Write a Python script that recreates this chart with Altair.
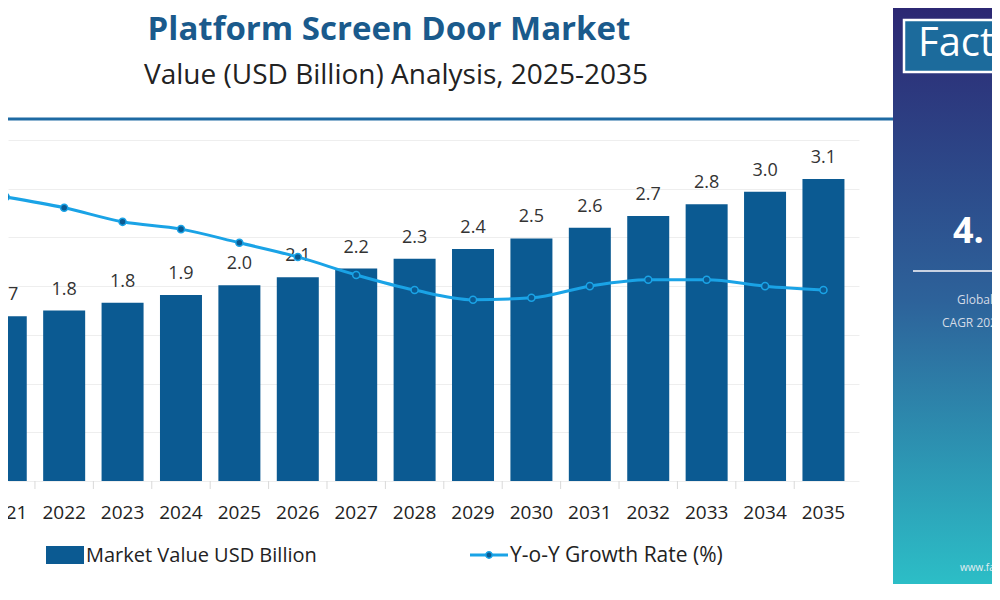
import altair as alt
import pandas as pd

# ---------------- data ----------------
years = [2021, 2022, 2023, 2024, 2025, 2026, 2027, 2028, 2029, 2030, 2031, 2032, 2033, 2034, 2035]
market_value = [1.69, 1.75, 1.83, 1.91, 2.01, 2.09, 2.18, 2.28, 2.38, 2.49, 2.60, 2.72, 2.84, 2.97, 3.10]
value_labels = ["1.7", "1.8", "1.8", "1.9", "2.0", "2.1", "2.2", "2.3", "2.4", "2.5", "2.6", "2.7", "2.8", "3.0", "3.1"]
growth_rate = [5.83, 5.61, 5.32, 5.17, 4.89, 4.60, 4.23, 3.92, 3.72, 3.76, 4.00, 4.13, 4.13, 4.00, 3.92]

title_text = "Platform Screen Door Market"
subtitle_text = "Value (USD Billion) Analysis, 2025-2035"
legend_labels = ["Market Value USD Billion", "Y-o-Y Growth Rate (%)"]
panel_texts = ["Fact.MR", "4.", "Global", "CAGR 2025-2035", "www.factmr.com"]

# ---------------- styling ----------------
FONT = "Open Sans"
BAR = "#0b5a92"
LINE = "#1aa3e6"
W, H = 851, 341

df = pd.DataFrame({
    "year": years,
    "value": market_value,
    "label": value_labels,
    "growth": growth_rate,
    "year_label": [str(y) for y in years],
})
bounds = pd.DataFrame({"b": [y + 0.5 for y in years[:-1]]})
one = pd.DataFrame({"k": [0]})

xscale = alt.Scale(domain=[2021.124, 2035.523], nice=False, zero=False)
x_axis = alt.X("year:Q", scale=xscale,
               axis=alt.Axis(labels=False, ticks=False, grid=False, domainColor="#d9d9d9", title=None))
x_noaxis = alt.X("year:Q", scale=xscale, axis=None)
vscale = alt.Scale(domain=[0, 3.5], nice=False, zero=True)
gscale = alt.Scale(domain=[0, 7], nice=False, zero=True)

base = alt.Chart(df)

bars = base.mark_bar(size=42, color=BAR).encode(
    x=x_axis,
    y=alt.Y("value:Q", scale=vscale,
            axis=alt.Axis(values=[0, 0.5, 1, 1.5, 2, 2.5, 3, 3.5], labels=False, ticks=False,
                          domain=False, grid=True, gridColor="#eeeeee", title=None)),
)

bar_labels = base.mark_text(dy=-21, fontSize=18, font=FONT, color="#333333", baseline="middle").encode(
    x=x_noaxis,
    y=alt.Y("value:Q", scale=vscale, axis=None),
    text="label:N",
)

line = base.mark_line(interpolate="monotone", color=LINE, strokeWidth=3).encode(
    x=x_noaxis,
    y=alt.Y("growth:Q", scale=gscale, axis=None),
)
points = base.mark_circle(size=50, color=BAR, stroke=LINE, strokeWidth=1.5, opacity=1).encode(
    x=x_noaxis,
    y=alt.Y("growth:Q", scale=gscale, axis=None),
)

tick_rules = alt.Chart(bounds).mark_rule(color="#d9d9d9").encode(
    x=alt.X("b:Q", scale=xscale, axis=None),
    y=alt.value(H), y2=alt.value(H + 8),
)

year_text = base.mark_text(fontSize=19, font=FONT, color="#222222", baseline="middle").encode(
    x=x_noaxis, y=alt.value(H + 32), text="year_label:N",
)

deco = alt.Chart(one)

title = deco.mark_text(fontSize=33, font=FONT, fontWeight="bold", color="#1a5a8c",
                       align="center", baseline="middle").encode(
    x=alt.value(381), y=alt.value(-110), text=alt.value(title_text))
subtitle = deco.mark_text(fontSize=28, font=FONT, color="#222222",
                          align="center", baseline="middle").encode(
    x=alt.value(388), y=alt.value(-64), text=alt.value(subtitle_text))
header_line = deco.mark_rule(color="#1e6aa3", strokeWidth=3).encode(
    x=alt.value(-10), x2=alt.value(885), y=alt.value(-21))

# legend
leg_rect = deco.mark_rect(color=BAR).encode(
    x=alt.value(38), x2=alt.value(76), y=alt.value(406), y2=alt.value(424))
leg_text1 = deco.mark_text(fontSize=20, font=FONT, color="#222222", align="left", baseline="middle").encode(
    x=alt.value(78), y=alt.value(416), text=alt.value(legend_labels[0]))
leg_line = deco.mark_rule(color=LINE, strokeWidth=3).encode(
    x=alt.value(462), x2=alt.value(500), y=alt.value(415))
leg_dot = deco.mark_circle(size=40, color=BAR, stroke=LINE, strokeWidth=1.5, opacity=1).encode(
    x=alt.value(481), y=alt.value(415))
leg_text2 = deco.mark_text(fontSize=21, font=FONT, color="#222222", align="left", baseline="middle").encode(
    x=alt.value(502), y=alt.value(416), text=alt.value(legend_labels[1]))

# right panel
panel = deco.mark_rect(color=alt.LinearGradient(
    gradient="linear",
    stops=[alt.GradientStop(color="#2c2672", offset=0),
           alt.GradientStop(color="#2d629a", offset=0.5),
           alt.GradientStop(color="#2cc3c9", offset=1)],
    x1=0, x2=0, y1=0, y2=1)).encode(
    x=alt.value(885), x2=alt.value(995), y=alt.value(-140), y2=alt.value(460))
logo_box = deco.mark_rect(color="#1c6b9c", stroke="white", strokeWidth=2.5).encode(
    x=alt.value(896), x2=alt.value(1010), y=alt.value(-120), y2=alt.value(-68))
logo_text = deco.mark_text(fontSize=40, font=FONT, color="white", align="left", baseline="alphabetic").encode(
    x=alt.value(910), y=alt.value(-84), text=alt.value(panel_texts[0]))
big_num = deco.mark_text(fontSize=36, font=FONT, fontWeight="bold", color="white",
                         align="left", baseline="alphabetic").encode(
    x=alt.value(945), y=alt.value(103), text=alt.value(panel_texts[1]))
panel_rule = deco.mark_rule(color="#c9d2e2", strokeWidth=2).encode(
    x=alt.value(905), x2=alt.value(1000), y=alt.value(131))
p_t1 = deco.mark_text(fontSize=12, font=FONT, color="#d4dbe6", align="left", baseline="middle").encode(
    x=alt.value(949), y=alt.value(160), text=alt.value(panel_texts[2]))
p_t2 = deco.mark_text(fontSize=12, font=FONT, color="#d4dbe6", align="left", baseline="middle").encode(
    x=alt.value(934), y=alt.value(183), text=alt.value(panel_texts[3]))
p_t3 = deco.mark_text(fontSize=10, font=FONT, color="#e6eef2", align="left", baseline="middle").encode(
    x=alt.value(952), y=alt.value(428), text=alt.value(panel_texts[4]))

chart = alt.layer(
    bars, bar_labels, tick_rules, year_text, line, points,
    title, subtitle, header_line,
    leg_rect, leg_text1, leg_line, leg_dot, leg_text2,
    panel, logo_box, logo_text, big_num, panel_rule, p_t1, p_t2, p_t3,
).resolve_scale(y="independent").properties(
    width=W, height=H,
    background="white",
    autosize=alt.AutoSizeParams(type="none"),
    padding={"left": 0, "top": 132, "right": 133, "bottom": 103},
).configure_view(strokeWidth=0, stroke="transparent")

chart.save("out.html", embed_options={"renderer": "svg", "actions": False})
